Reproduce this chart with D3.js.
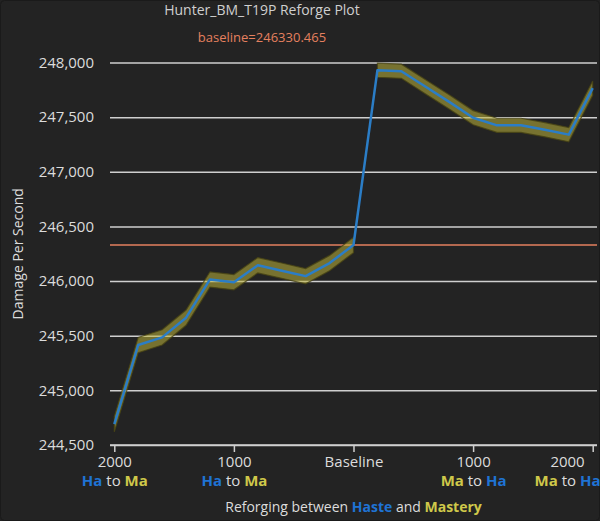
<!DOCTYPE html>
<html>
<head>
<meta charset="utf-8">
<script src="https://cdn.jsdelivr.net/npm/d3@7"></script>
<style>
  html, body { margin: 0; padding: 0; background: #222; }
  svg { display: block; }
  text { font-family: "Open Sans", sans-serif; }
</style>
</head>
<body>
<svg id="chart" width="600" height="521"></svg>
<script>
// ---- data ----
const title = "Hunter_BM_T19P Reforge Plot";
const baseline = 246330.465;
const reforgeAmounts = [-2000,-1800,-1600,-1400,-1200,-1000,-800,-600,-400,-200,0,
                        200,400,600,800,1000,1200,1400,1600,1800,2000];
const dps = [244690,245415,245485,245665,246015,245990,246145,246095,246045,246165,246330,
             247930,247920,247780,247640,247495,247425,247425,247385,247340,247765];
const dpsError = [70,70,70,70,70,70,70,70,70,70,70,
                  65,65,65,65,65,65,65,65,65,65];
const yTicks = [244500,245000,245500,246000,246500,247000,247500,248000];
const xTickValues = [-2000,-1000,0,1000,2000];
const xTickNumbers = ["2000","1000","Baseline","1000","2000"];
const xTickFrom = ["Ha","Ha","","Ma","Ma"];
const xTickTo = ["Ma","Ma","","Ha","Ha"];
const statColor = {Ha: "#1f73d4", Ma: "#cfc84a"};

// ---- layout ----
const svg = d3.select("#chart");
const W = 600, H = 521;
const plotL = 110, plotR = 597, plotT = 62.5, plotB = 445;

svg.append("rect").attr("x", 0.5).attr("y", 0.5).attr("width", W - 1).attr("height", H - 1)
  .attr("rx", 4).attr("fill", "#232323").attr("stroke", "#1a1a1a");

const x = d3.scaleLinear().domain([-2000, 2000]).range([114.3, 592.7]);
const y = d3.scaleLinear().domain([244500, 248000]).range([plotB, plotT]);

// title
svg.append("text").attr("x", 262).attr("y", 15).attr("text-anchor", "middle")
  .attr("fill", "#cfcfcf").attr("font-size", 14).text(title);
svg.append("text").attr("x", 262).attr("y", 42).attr("text-anchor", "middle")
  .attr("fill", "#e5805f").attr("font-size", 13).text("baseline=" + baseline);

// y axis (gridlines + labels)
const yAxis = d3.axisLeft(y).tickValues(yTicks).tickSize(-(plotR - plotL)).tickPadding(16)
  .tickFormat(d3.format(","));
const yg = svg.append("g").attr("transform", `translate(${plotL},0)`).call(yAxis);
yg.attr("font-family", null).attr("font-size", null);
yg.select(".domain").remove();
yg.selectAll(".tick line").attr("stroke", "#cfcfcf").attr("stroke-width", 1.5);
yg.selectAll(".tick text").attr("fill", "#dcdcdc").attr("font-size", 15);

// x axis
const xAxis = d3.axisBottom(x).tickValues(xTickValues).tickSize(7).tickFormat("");
const xg = svg.append("g").attr("transform", `translate(0,${plotB})`).call(xAxis);
xg.attr("font-family", null).attr("font-size", null);
xg.select(".domain").attr("d", `M${plotL},0H${plotR}`).attr("stroke", "#cfcfcf").attr("stroke-width", 1.5);
xg.selectAll(".tick line").attr("stroke", "#cfcfcf").attr("stroke-width", 1.5);
xg.selectAll(".tick").each(function(d, i) {
  const g = d3.select(this);
  const lbl = g.append("g");
  lbl.append("text").attr("y", 22).attr("text-anchor", "middle").attr("fill", "#dcdcdc")
    .attr("font-size", 15).text(xTickNumbers[i]);
  if (xTickFrom[i]) {
    const t = lbl.append("text").attr("y", 41).attr("text-anchor", "middle").attr("font-size", 15);
    t.append("tspan").attr("fill", statColor[xTickFrom[i]]).attr("font-weight", "bold").text(xTickFrom[i]);
    t.append("tspan").attr("fill", "#dcdcdc").text(" to ");
    t.append("tspan").attr("fill", statColor[xTickTo[i]]).attr("font-weight", "bold").text(xTickTo[i]);
  }
  // keep label block inside the right edge (justify like the original)
  const bb = lbl.node().getBBox();
  const tickX = x(d);
  const overflow = tickX + bb.x + bb.width - W;
  if (overflow > 0) lbl.attr("transform", `translate(${-overflow},0)`);
});

// axis titles
const xt = svg.append("text").attr("x", (plotL + plotR) / 2).attr("y", 512).attr("text-anchor", "middle")
  .attr("font-size", 14).attr("fill", "#dcdcdc");
xt.append("tspan").text("Reforging between ");
xt.append("tspan").attr("fill", statColor.Ha).attr("font-weight", "bold").text("Haste");
xt.append("tspan").text(" and ");
xt.append("tspan").attr("fill", statColor.Ma).attr("font-weight", "bold").text("Mastery");

svg.append("text").attr("transform", `translate(23,${(plotT + plotB) / 2}) rotate(-90)`)
  .attr("text-anchor", "middle").attr("font-size", 14).attr("fill", "#dcdcdc").text("Damage Per Second");

// baseline
svg.append("line").attr("x1", plotL).attr("x2", plotR).attr("y1", y(baseline)).attr("y2", y(baseline))
  .attr("stroke", "#e5805f").attr("stroke-width", 1.5);

// error bands
const pts = reforgeAmounts.map((r, i) => ({r, v: dps[i], e: dpsError[i]}));
const area = d3.area().x(d => x(d.r)).y0(d => y(d.v - d.e)).y1(d => y(d.v + d.e));
[pts.filter(d => d.r <= 0), pts.filter(d => d.r > 0)].forEach(seg => {
  svg.append("path").attr("d", area(seg))
    .attr("fill", "rgba(190,180,60,0.55)").attr("stroke", "rgba(70,66,20,0.8)").attr("stroke-width", 1.2);
});

// line
const line = d3.line().x(d => x(d.r)).y(d => y(d.v));
svg.append("path").attr("d", line(pts)).attr("fill", "none")
  .attr("stroke", "#2b7dc6").attr("stroke-width", 2.5).attr("stroke-linejoin", "round");
</script>
</body>
</html>
